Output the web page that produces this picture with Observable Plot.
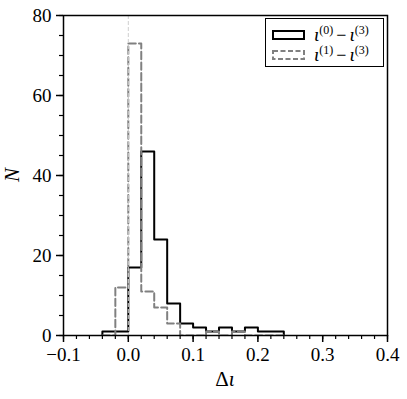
<!DOCTYPE html>
<html><head><meta charset="utf-8">
<script src="https://cdn.jsdelivr.net/npm/d3@7"></script>
<script src="https://cdn.jsdelivr.net/npm/@observablehq/plot@0.6"></script>
<style>
body{margin:0;background:#fff;}
#wrap{position:relative;width:407px;height:399px;font-family:"Times New Roman",serif;}
#wrap svg text, #wrap span, #wrap i, #wrap sup{font-family:"Times New Roman",serif !important;}
#legend{position:absolute;left:265px;top:18px;width:119px;height:49px;border:1px solid #000;background:#fff;box-sizing:border-box;}
.row{position:absolute;left:0;height:18px;display:flex;align-items:center;font-size:18px;white-space:nowrap;}
.row svg{margin-left:6px;margin-right:9px;}
.row i{font-size:19px;}
.row .m{margin:0 3px;}
sup{font-size:12px;vertical-align:7px;line-height:0;}
</style></head><body><div id="wrap"></div>
<script>
const binStart = -0.04;
const binWidth = 0.02;
const countsA = [1, 1, 17, 46, 24, 8, 3, 2, 1, 2, 1, 2, 1, 1];
const countsB = [0, 12, 73, 11, 7, 3, 0, 0, 1, 0, 1, 0, 0, 0];
const xTicks = [-0.1, 0.0, 0.1, 0.2, 0.3, 0.4];
const yTicks = [0, 20, 40, 60, 80];
const xMinor = d3.range(-0.1, 0.4001, 0.02);
const yMinor = d3.range(0, 80.01, 5);
const seriesLabels = [["0", "3"], ["1", "3"]];

function stepPoints(counts) {
  const pts = [{x: binStart, y: 0}];
  counts.forEach((c, i) => {
    pts.push({x: binStart + i * binWidth, y: c});
    pts.push({x: binStart + (i + 1) * binWidth, y: c});
  });
  pts.push({x: binStart + counts.length * binWidth, y: 0});
  return pts;
}

const chart = Plot.plot({
  width: 407, height: 399,
  marginLeft: 63, marginRight: 20, marginTop: 15, marginBottom: 64,
  style: {fontSize: "19px", background: "white", color: "black"},
  x: {domain: [-0.1, 0.4]},
  y: {domain: [0, 80]},
  marks: [
    Plot.line(stepPoints(countsA), {x: "x", y: "y", stroke: "black", strokeWidth: 2, clip: true}),
    Plot.line(stepPoints(countsB), {x: "x", y: "y", stroke: "#808080", strokeWidth: 2, strokeDasharray: "7.4,3.2", clip: true}),
    Plot.ruleX([0], {stroke: "#cfcfcf", strokeWidth: 1, strokeDasharray: "4,2"}),
    Plot.axisX({ticks: xMinor, tickSize: 4, strokeWidth: 1.2, text: null, label: null}),
    Plot.axisX({ticks: xTicks, tickSize: 7, strokeWidth: 1.5, tickPadding: 5, tickFormat: d3.format(".1f"), label: null}),
    Plot.axisY({ticks: yMinor, tickSize: 4, strokeWidth: 1.2, text: null, label: null}),
    Plot.axisY({ticks: yTicks, tickSize: 7, strokeWidth: 1.5, tickPadding: 5, label: null}),
    Plot.frame({stroke: "black", strokeWidth: 1.5})
  ]
});
chart.setAttribute("font-family", "Times New Roman, serif");

const wrap = document.getElementById("wrap");
wrap.appendChild(chart);

const svg = d3.select(chart);
const xl = svg.append("text").attr("x", 225).attr("y", 386).attr("text-anchor", "middle")
  .attr("font-size", 21).attr("fill", "black");
xl.append("tspan").text("Δ");
xl.append("tspan").attr("font-style", "italic").text("ι");
svg.append("text").attr("transform", "translate(19,175) rotate(-90)").attr("text-anchor", "middle")
  .attr("font-size", 21).attr("font-style", "italic").attr("fill", "black").text("N");
svg.selectAll("text").attr("font-family", "Times New Roman, serif");

const legend = document.createElement("div");
legend.id = "legend";
const styles = [{stroke: "#000", dash: null}, {stroke: "#808080", dash: "5,2.5"}];
seriesLabels.forEach((lab, i) => {
  const row = document.createElement("div");
  row.className = "row";
  row.style.top = (7 + i * 20) + "px";
  const st = styles[i];
  row.innerHTML = `<svg width="33" height="10"><rect x="1" y="1" width="31" height="8" fill="none" stroke="${st.stroke}" stroke-width="2" ${st.dash ? `stroke-dasharray="${st.dash}"` : ""}/></svg>` +
    `<span><i>ι</i><sup>(${lab[0]})</sup><span class="m">−</span><i>ι</i><sup>(${lab[1]})</sup></span>`;
  legend.appendChild(row);
});
wrap.appendChild(legend);
</script>
</body></html>
